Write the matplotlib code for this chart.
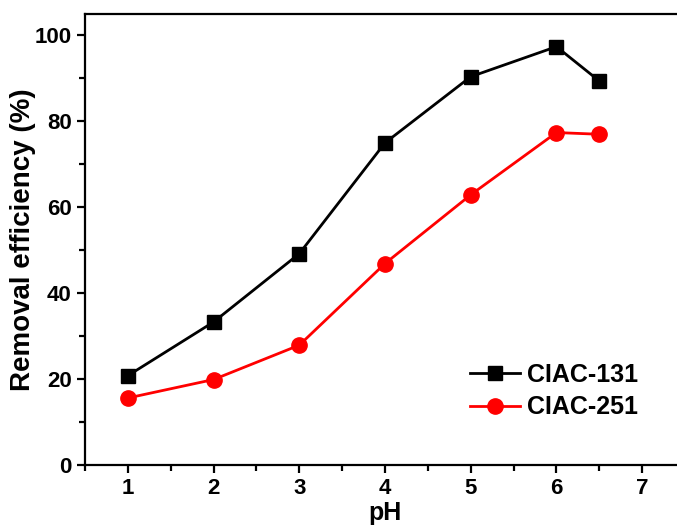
import matplotlib.pyplot as plt
from matplotlib.ticker import MultipleLocator

plt.rcParams['font.family'] = ['Liberation Sans', 'DejaVu Sans']
plt.rcParams['font.weight'] = 'bold'

ph = [1, 2, 3, 4, 5, 6, 6.5]
ciac_131 = [20.8, 33.3, 49.2, 75.0, 90.4, 97.4, 89.4]
ciac_251 = [15.6, 19.9, 27.9, 46.9, 62.9, 77.4, 77.0]

fig = plt.figure(figsize=(6.77, 5.26), dpi=100)
ax = fig.add_axes([85 / 677, 61 / 526, 600 / 677, 451 / 526])

ax.plot(ph, ciac_131, color='black', marker='s', markersize=10, linewidth=2, label='CIAC-131')
ax.plot(ph, ciac_251, color='red', marker='o', markersize=11, linewidth=2, label='CIAC-251')

ax.set_xlim(0.5, 7.5)
ax.set_ylim(0, 105)
ax.xaxis.set_major_locator(MultipleLocator(1))
ax.xaxis.set_minor_locator(MultipleLocator(0.5))
ax.yaxis.set_major_locator(MultipleLocator(20))
ax.yaxis.set_minor_locator(MultipleLocator(10))
ax.tick_params(which='both', direction='out', top=False, right=False, labelsize=16, width=1.6)
ax.tick_params(which='major', length=6)
ax.tick_params(which='minor', length=4)
for s in ax.spines.values():
    s.set_linewidth(1.6)

ax.set_xlabel('pH', fontsize=18, fontweight='bold')
ax.set_ylabel('Removal efficiency (%)', fontsize=20, fontweight='bold')
ax.xaxis.set_label_coords(0.5, -0.133)
ax.xaxis.label.set_va('bottom')
ax.yaxis.set_label_coords(-0.082, 0.5)

ax.legend(loc='upper left', bbox_to_anchor=(447 / 677, 1 - 340 / 526), bbox_transform=fig.transFigure,
          frameon=False, fontsize=18, handlelength=2.0, handletextpad=0.3, labelspacing=0.35)

fig.savefig('out.png', dpi=100)
